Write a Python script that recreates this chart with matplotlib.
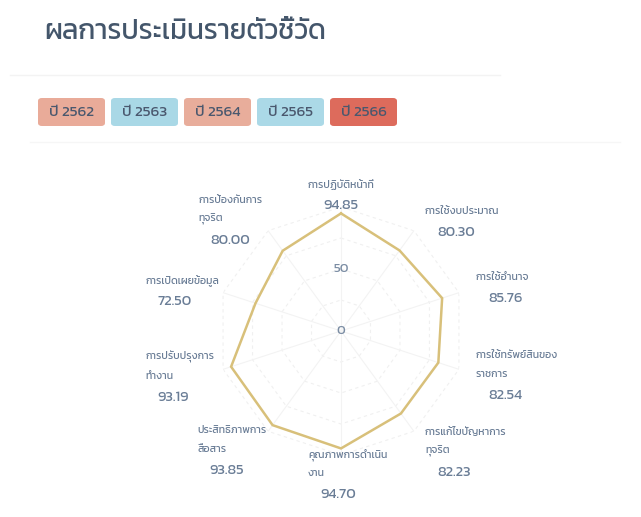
import matplotlib
matplotlib.use("Agg")
import matplotlib.pyplot as plt
from matplotlib.patches import FancyBboxPatch
import numpy as np

plt.rcParams['font.family'] = ['Kanit', 'Prompt', 'DejaVu Sans']

# ---- data ----
indicator_lines = [
    ["การปฏิบัติหน้าที่"],
    ["การใช้งบประมาณ"],
    ["การใช้อำนาจ"],
    ["การใช้ทรัพย์สินของ", "ราชการ"],
    ["การแก้ไขปัญหาการ", "ทุจริต"],
    ["คุณภาพการดำเนิน", "งาน"],
    ["ประสิทธิภาพการ", "สื่อสาร"],
    ["การปรับปรุงการ", "ทำงาน"],
    ["การเปิดเผยข้อมูล"],
    ["การป้องกันการ", "ทุจริต"],
]
scores = [94.85, 80.30, 85.76, 82.54, 82.23, 94.70, 93.85, 93.19, 72.50, 80.00]
radial_ticks = [0, 50]
years = ["ปี 2562", "ปี 2563", "ปี 2564", "ปี 2565", "ปี 2566"]
year_colors = ["#e9ab99", "#a9d8e6", "#e8ad9b", "#abd9e7", "#dd6b5c"]
title = "ผลการประเมินรายตัวชี้วัด"

W, H = 641, 517
fig = plt.figure(figsize=(W / 100, H / 100), dpi=100)

def fx(px):
    return px / W

def fy(py):
    return 1 - py / H

# title
fig.text(fx(44), fy(32), title, fontsize=20, color="#44566b", va="center", ha="left",
         fontweight="normal")

# faint divider lines
fig.add_artist(plt.Line2D([fx(10), fx(500)], [fy(75), fy(75)], color="#f3f3f3", lw=1))
fig.add_artist(plt.Line2D([fx(30), fx(620)], [fy(142), fy(142)], color="#f6f6f6", lw=1))

# year buttons
bx = 38
for lab, col in zip(years, year_colors):
    w = 67
    p = FancyBboxPatch((fx(bx), fy(126)), fx(w), fy(98) - fy(126),
                       boxstyle="round,pad=0,rounding_size=0.006",
                       transform=fig.transFigure, facecolor=col, edgecolor="none")
    fig.add_artist(p)
    fig.text(fx(bx + w / 2), fy(112), lab, fontsize=11, color="#4a586e",
             ha="center", va="center")
    bx += w + 6

# radar
cx, cy, R = 341, 331, 124
ax = fig.add_axes([fx(cx - R), fy(cy + R), fx(2 * R), fy(cy - R) - fy(cy + R)],
                  projection="polar")
ax.set_theta_zero_location("N")
ax.set_theta_direction(-1)
ax.set_ylim(0, 100)
ax.set_axis_off()

n = len(scores)
theta = np.arange(n) * 2 * np.pi / n
th_c = np.append(theta, theta[0])

# grid polygons and spokes
for rr in [25, 50, 75, 100]:
    ax.plot(th_c, [rr] * (n + 1), color="#f0f0f0", lw=0.8, ls=(0, (3, 3)))
for t in theta:
    ax.plot([t, t], [0, 100], color="#f3f3f3", lw=0.8)

vals = np.append(scores, scores[0])
ax.plot(th_c, vals, color="#d8c07a", lw=1.8, solid_joinstyle="miter")

for t in radial_ticks:
    ax.text(0, t, str(t), fontsize=9.5, color="#7a8ca3", ha="center", va="center")

# point labels: offsets (pixels) from axis tip to block top-left
offsets = [(0, 30), (11, 27), (17, 23), (17, 22), (11, 7),
           (-33, 8), (-71, 9), (-78, 20), (-78, 20), (-70, 38)]
line_h = 19
lab_col = "#6a7d96"
for i, (lines, sc) in enumerate(zip(indicator_lines, scores)):
    tx, ty = ax.transData.transform((theta[i], 100))
    ox, oy = offsets[i]
    left = tx + ox
    top = ty + oy  # display coords: y up
    if i == 0:
        for k, ln in enumerate(lines):
            fig.text(tx / W, (top - 8 - k * line_h) / H, ln, fontsize=7.6, color=lab_col,
                     ha="center", va="center")
        fig.text(tx / W, (top - 8 - len(lines) * line_h - 2) / H, f"{sc:.2f}",
                 fontsize=10.5, color=lab_col, ha="center", va="center")
    else:
        for k, ln in enumerate(lines):
            fig.text(left / W, (top - 8 - k * line_h) / H, ln, fontsize=7.6, color=lab_col,
                     ha="left", va="center")
        fig.text((left + 12) / W, (top - 8 - len(lines) * line_h - 2) / H, f"{sc:.2f}",
                 fontsize=10.5, color=lab_col, ha="left", va="center")

fig.savefig("out.png", dpi=100)
